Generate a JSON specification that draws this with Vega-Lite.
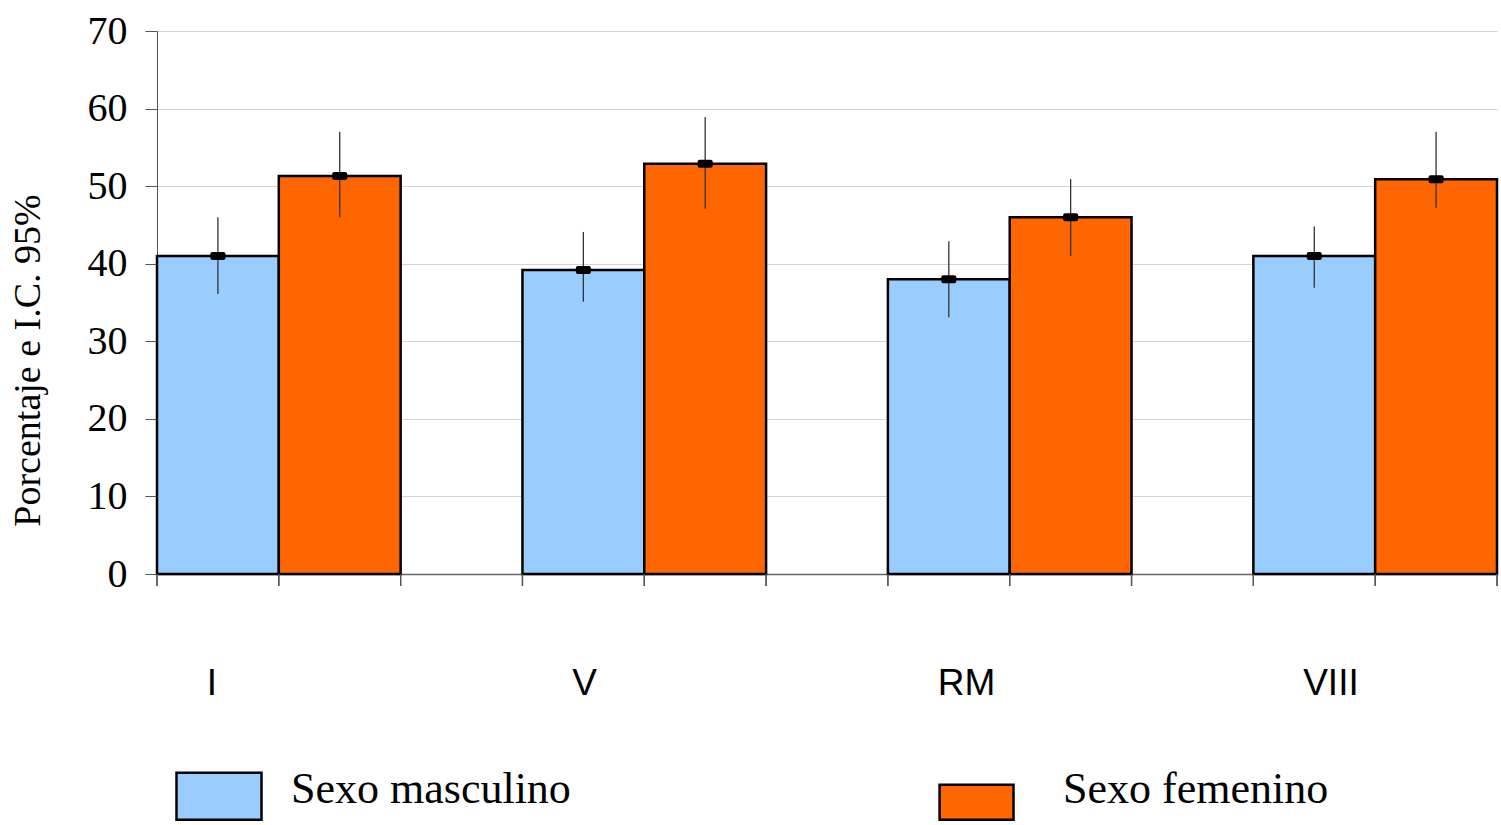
{
  "$schema": "https://vega.github.io/schema/vega-lite/v6.json",
  "width": 1340,
  "height": 543,
  "autosize": "none",
  "padding": {"left": 157, "top": 31, "right": 4, "bottom": 251},
  "background": "white",
  "config": {"view": {"stroke": null}, "font": "Liberation Serif"},
  "data": {
    "values": [
      {"region": "I", "sex": "Sexo masculino", "value": 41.0, "lo": 36.1, "hi": 46.0},
      {"region": "I", "sex": "Sexo femenino", "value": 51.3, "lo": 46.0, "hi": 57.0},
      {"region": "V", "sex": "Sexo masculino", "value": 39.2, "lo": 35.1, "hi": 44.1},
      {"region": "V", "sex": "Sexo femenino", "value": 52.9, "lo": 47.1, "hi": 58.9},
      {"region": "RM", "sex": "Sexo masculino", "value": 38.0, "lo": 33.1, "hi": 42.9},
      {"region": "RM", "sex": "Sexo femenino", "value": 46.0, "lo": 41.0, "hi": 50.9},
      {"region": "VIII", "sex": "Sexo masculino", "value": 41.0, "lo": 36.9, "hi": 44.8},
      {"region": "VIII", "sex": "Sexo femenino", "value": 50.9, "lo": 47.2, "hi": 57.0}
    ]
  },
  "encoding": {
    "x": {
      "field": "region", "type": "nominal", "sort": ["I", "V", "RM", "VIII"],
      "scale": {"paddingInner": 0.3333333, "paddingOuter": 0},
      "axis": {
        "title": null, "labelAngle": 0, "ticks": false, "tickSize": 0,
        "labelAlign": "left", "labelOffset": -72, "labelPadding": 91, "labelBaseline": "top",
        "labelFont": "Liberation Sans", "labelFontSize": 37, "labelColor": "black",
        "domainColor": "#666666", "domainWidth": 1.5, "grid": false
      }
    }
  },
  "layer": [
    {
      "mark": {"type": "bar", "stroke": "black", "strokeWidth": 2.5, "opacity": 1},
      "encoding": {
        "xOffset": {"field": "sex", "type": "nominal", "sort": ["Sexo masculino", "Sexo femenino"], "scale": {"paddingInner": 0, "paddingOuter": 0}},
        "y": {
          "field": "value", "type": "quantitative", "title": "Porcentaje e I.C. 95%",
          "scale": {"domain": [0, 70], "nice": false},
          "axis": {
            "values": [0, 10, 20, 30, 40, 50, 60, 70], "tickSize": 12, "tickColor": "#555555", "domainColor": "#555555",
            "labelFont": "Liberation Serif", "labelFontSize": 40, "labelColor": "black", "labelPadding": 18,
            "grid": true, "gridColor": "#d3d3d3",
            "titleFont": "Liberation Serif", "titleFontSize": 38, "titleFontWeight": "normal", "titleColor": "black",
            "titleX": -118, "titleY": 329, "titleBaseline": "alphabetic", "titleAlign": "center", "titleAngle": -90
          }
        },
        "color": {
          "field": "sex", "type": "nominal", "sort": ["Sexo masculino", "Sexo femenino"],
          "scale": {"domain": ["Sexo masculino", "Sexo femenino"], "range": ["#99CCFF", "#FF6600"]},
          "legend": {
            "title": null, "orient": "none", "legendX": 18, "legendY": 721, "direction": "horizontal",
            "columns": 2, "columnPadding": 363, "padding": 0, "symbolSize": 7225,
            "symbolType": "M-1,-0.553H1V0.553H-1Z",
            "symbolStrokeColor": "black", "symbolStrokeWidth": 2.5, "symbolOpacity": 1,
            "labelFont": "Liberation Serif", "labelFontSize": 44, "labelColor": "black", "labelOffset": 28, "labelLimit": 0,
            "encode": {
              "symbols": {"update": {"shape": {"signal": "datum.value === 'Sexo masculino' ? 'M-1,-0.553H1V0.553H-1Z' : 'M-1.21,-0.27H0.53V0.553H-1.21Z'"}}},
              "labels": {"update": {"dy": {"value": -6}}}
            }
          }
        }
      }
    },
    {
      "mark": {"type": "rule", "color": "#333333", "strokeWidth": 1.3},
      "encoding": {
        "xOffset": {"field": "sex", "type": "nominal", "sort": ["Sexo masculino", "Sexo femenino"]},
        "y": {"field": "lo", "type": "quantitative", "title": "Porcentaje e I.C. 95%"},
        "y2": {"field": "hi"}
      }
    },
    {
      "mark": {"type": "tick", "orient": "horizontal", "size": 15, "thickness": 8, "color": "black", "cornerRadius": 2, "opacity": 1},
      "encoding": {
        "xOffset": {"field": "sex", "type": "nominal", "sort": ["Sexo masculino", "Sexo femenino"]},
        "y": {"field": "value", "type": "quantitative", "title": "Porcentaje e I.C. 95%"}
      }
    },
    {
      "mark": {"type": "rule", "color": "#555555", "strokeWidth": 1.3},
      "encoding": {
        "x": {"field": "region", "type": "nominal", "sort": ["I", "V", "RM", "VIII"], "bandPosition": 0},
        "y": {"datum": 0, "type": "quantitative", "title": "Porcentaje e I.C. 95%"},
        "y2": {"datum": -1.55}
      }
    },
    {
      "mark": {"type": "rule", "color": "#555555", "strokeWidth": 1.3},
      "encoding": {
        "x": {"field": "region", "type": "nominal", "sort": ["I", "V", "RM", "VIII"], "bandPosition": 0.5},
        "y": {"datum": 0, "type": "quantitative", "title": "Porcentaje e I.C. 95%"},
        "y2": {"datum": -1.55}
      }
    },
    {
      "mark": {"type": "rule", "color": "#555555", "strokeWidth": 1.3},
      "encoding": {
        "x": {"field": "region", "type": "nominal", "sort": ["I", "V", "RM", "VIII"], "bandPosition": 1},
        "y": {"datum": 0, "type": "quantitative", "title": "Porcentaje e I.C. 95%"},
        "y2": {"datum": -1.55}
      }
    }
  ]
}
